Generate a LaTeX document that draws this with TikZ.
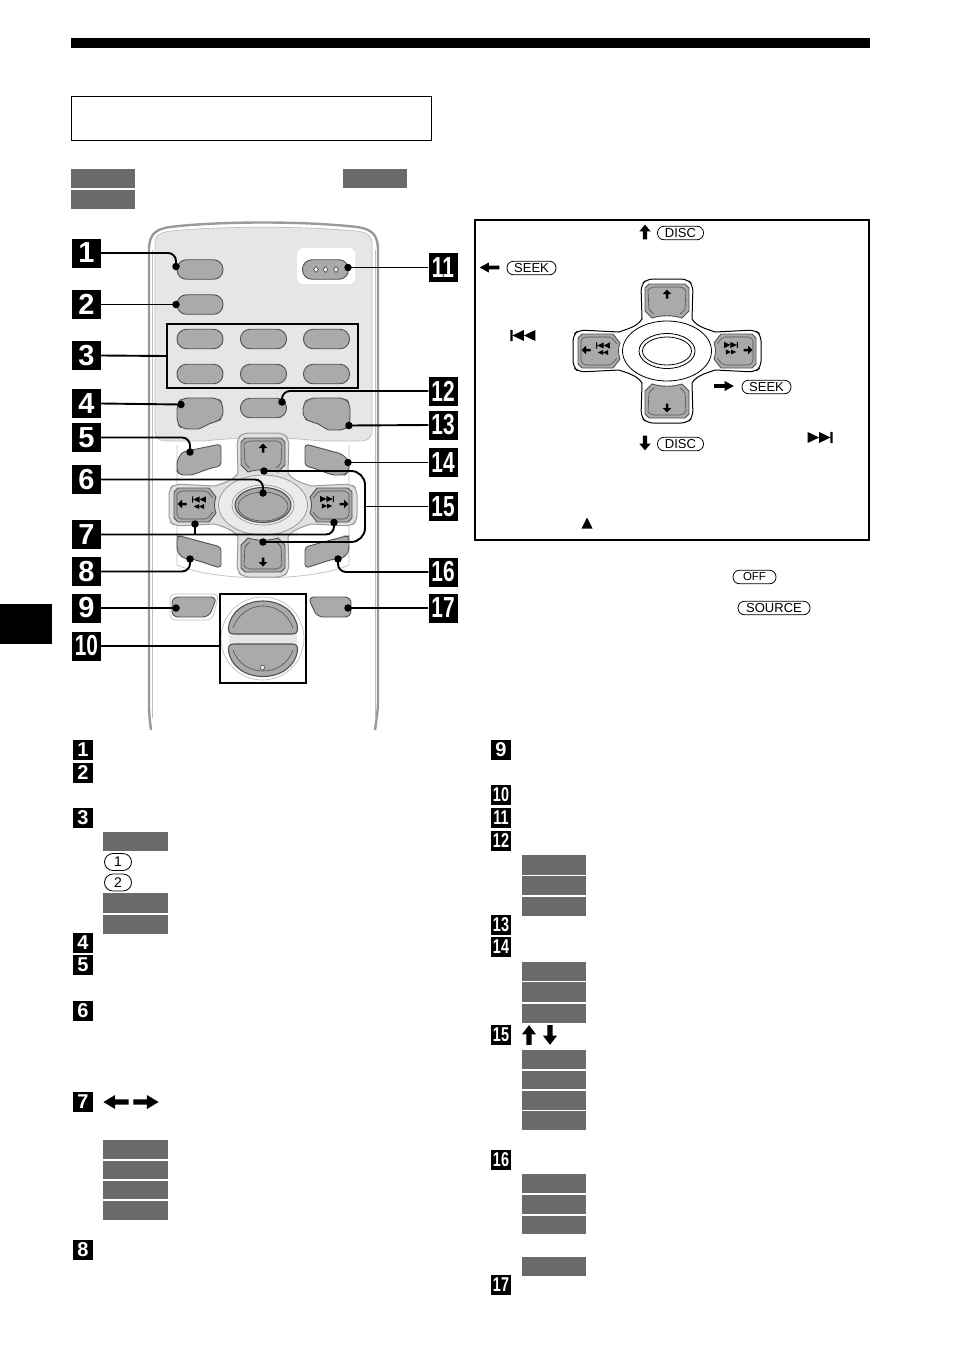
\documentclass[tikz,border=0pt]{standalone}
\usepackage{fontspec}
\setmainfont{Liberation Sans}
\usetikzlibrary{calc}
\definecolor{btn}{HTML}{AAAAAA}
\definecolor{boxg}{HTML}{6A6A6A}
\definecolor{panel}{HTML}{E6E6E6}
\definecolor{rim}{HTML}{9A9A9A}
\definecolor{edge}{HTML}{505050}
\tikzset{
  bigbadge/.style={fill=black,text=white,minimum width=29pt,minimum height=29pt,inner sep=0pt,font=\bfseries\fontsize{29}{29}\selectfont},
  smallbadge/.style={fill=black,text=white,minimum width=20pt,minimum height=20pt,inner sep=0pt,font=\bfseries\fontsize{20}{20}\selectfont},
  pill/.style={draw=black,line width=.8pt,rounded corners=6.5pt,fill=white,minimum height=13.5pt,inner sep=0pt,font=\fontsize{13}{13}\selectfont},
  pad/.style={fill=btn,draw=edge,line width=.9pt},
  oval/.style={fill=btn,draw=edge,line width=.9pt,rounded corners=9.5pt,minimum width=46pt,minimum height=19.5pt,inner sep=0pt},
  call/.style={line width=1.9pt,draw=black,rounded corners=8pt},
  dot/.style={circle,fill=black,minimum size=7.5pt,inner sep=0pt},
  graybox/.style={fill=boxg},
}
\newcommand{\NN}[1]{\scalebox{.72}[1]{#1}}
\newcommand{\gb}[4]{\fill[graybox] (#1,#2) rectangle (#3,#4);}
\newcommand{\bigarrow}[5]{\fill[shift={(#1,#2)},rotate=#3,xscale=#4,yscale=#5] (-7,-1.9)--(.5,-1.9)--(.5,-5)--(7,0)--(.5,5)--(.5,1.9)--(-7,1.9)--cycle;}
\newcommand{\smallarrow}[3]{\fill[shift={(#1,#2)},rotate=#3,scale=1.25] (-3.6,-1)--(0,-1)--(0,-3.4)--(3.6,0)--(0,3.4)--(0,1)--(-3.6,1)--cycle;}
\newcommand{\skipfwd}[3]{\fill[shift={(#1,#2)},scale=#3] (-6.5,-2.9)--(-.5,0)--(-6.5,2.9)--cycle (-.5,-2.9)--(5.5,0)--(-.5,2.9)--cycle (5.5,-2.9) rectangle (6.6,2.9);}
\newcommand{\skipback}[3]{\fill[shift={(#1,#2)},scale=#3] (6.5,-2.9)--(.5,0)--(6.5,2.9)--cycle (.5,-2.9)--(-5.5,0)--(.5,2.9)--cycle (-5.5,-2.9) rectangle (-6.6,2.9);}
\newcommand{\dblfwd}[3]{\fill[shift={(#1,#2)},scale=#3] (-6,-2.9)--(0,0)--(-6,2.9)--cycle (0,-2.9)--(6,0)--(0,2.9)--cycle;}
\newcommand{\dblback}[3]{\fill[shift={(#1,#2)},scale=#3] (6,-2.9)--(0,0)--(6,2.9)--cycle (0,-2.9)--(-6,0)--(0,2.9)--cycle;}
\newcommand{\crosspad}[5]{%
\begin{scope}[shift={(#1,#2)}]
 \draw[fill=#3,draw=#4,line width=1pt]
  (-25,-32) [rounded corners=6pt] -- (-26,-66) -- (-20,-72) -- (20,-72) -- (26,-66) [sharp corners] -- (25,-32)
  .. controls (30,-24) and (40,-22) .. (48,-19) [rounded corners=6pt] -- (88,-21) -- (94,-16) -- (94,16) -- (88,21) [sharp corners] -- (48,19)
  .. controls (40,22) and (30,24) .. (25,32) [rounded corners=6pt] -- (26,66) -- (20,72) -- (-20,72) -- (-26,66) [sharp corners] -- (-25,32)
  .. controls (-30,24) and (-40,22) .. (-48,19) [rounded corners=6pt] -- (-88,21) -- (-94,16) -- (-94,-16) -- (-88,-21) [sharp corners] -- (-48,-19)
  .. controls (-40,-22) and (-30,-24) .. (-25,-32) -- cycle;
 \draw[fill=#5,draw=#4,line width=.8pt] (0,0) ellipse [x radius=44.5,y radius=30];
 \draw[pad] (-22,-63)--(-18,-67)--(18,-67)--(22,-63)--(22,-40)--(15,-33) .. controls (5,-36) and (-5,-36) .. (-15,-33)--(-22,-40)--cycle;
 \draw[edge,line width=.6pt,rounded corners=2pt] (-19,-61)--(-15,-64)--(15,-64)--(19,-61)--(18,-41)--(13,-37);
 \draw[edge,line width=.6pt,rounded corners=2pt] (-19,-61)--(-18,-41)--(-13,-37);
 \smallarrow{0}{-57}{90}
 \draw[pad] (-22,63)--(-18,67)--(18,67)--(22,63)--(22,40)--(15,33) .. controls (5,36) and (-5,36) .. (-15,33)--(-22,40)--cycle;
 \draw[edge,line width=.6pt,rounded corners=2pt] (-19,61)--(-15,64)--(15,64)--(19,61)--(18,41)--(13,37);
 \draw[edge,line width=.6pt,rounded corners=2pt] (-19,61)--(-18,41)--(-13,37);
 \smallarrow{0}{57}{-90}
 \draw[pad] (-89,-13)--(-85,-17)--(-54,-17)--(-47,-8) .. controls (-49,-3) and (-49,3) .. (-47,8)--(-54,17)--(-85,17)--(-89,13)--cycle;
 \draw[edge,line width=.6pt,rounded corners=2pt] (-86,-11)--(-83,-14)--(-56,-14)--(-50,-7);
 \draw[edge,line width=.6pt,rounded corners=2pt] (-86,-11)--(-86,11)--(-83,14)--(-56,14)--(-50,7);
 \smallarrow{-81}{-1}{180}
 \skipback{-64}{-5.5}{1.05}
 \dblback{-64}{1.5}{.85}
 \draw[pad] (89,-13)--(85,-17)--(54,-17)--(47,-8) .. controls (49,-3) and (49,3) .. (47,8)--(54,17)--(85,17)--(89,13)--cycle;
 \draw[edge,line width=.6pt,rounded corners=2pt] (86,-11)--(83,-14)--(56,-14)--(50,-7);
 \draw[edge,line width=.6pt,rounded corners=2pt] (86,-11)--(86,11)--(83,14)--(56,14)--(50,7);
 \smallarrow{81}{-1}{0}
 \skipfwd{64}{-6}{1.05}
 \dblfwd{64}{1}{.85}
\end{scope}}
\begin{document}
\begin{tikzpicture}[x=1pt,y=-1pt]
\useasboundingbox (0,0) rectangle (954,1352);
\fill[white] (0,0) rectangle (954,1352);
\fill[black] (71,38) rectangle (870,48);
\fill[black] (0,604) rectangle (52,644);
\node[draw=black,line width=.7pt,minimum width=360pt,minimum height=44pt,inner sep=0pt] (title) at (251,118) {};
\gb{71}{169}{135}{188}\gb{71}{190}{135}{209}\gb{343}{169}{407}{188}
\draw[draw=rim,line width=2.4pt,fill=white]
  (151,730) .. controls (149,715) and (149,710) .. (149,700) -- (149,250)
  .. controls (149,235) and (155,229) .. (170,227) .. controls (220,221) and (305,221) .. (357,227)
  .. controls (372,229) and (378,235) .. (378,250) -- (378,700) .. controls (378,710) and (377,715) .. (375,730);
\draw[draw=black!25,line width=.6pt] (152,718) -- (152,250);
\draw[draw=black!25,line width=.6pt] (375,718) -- (375,250);
\draw[draw=black!25,line width=.7pt,fill=panel]
  (155,430) -- (155,245) .. controls (155,235) and (160,232) .. (172,231) .. controls (220,226) and (305,226) .. (355,231)
  .. controls (367,232) and (372,235) .. (372,245) -- (372,430) .. controls (372,438) and (368,441) .. (360,441)
  -- (320,441) .. controls (290,437) and (235,437) .. (205,441) -- (167,441) .. controls (159,441) and (155,438) .. (155,430) -- cycle;
\draw[draw=black!25,line width=.7pt] (177,445) -- (177,565) .. controls (215,582) and (310,582) .. (349,565) -- (349,445);
\fill[white,rounded corners=6pt] (297,248) rectangle (355,284);
\node[oval] (k1) at (200,269.5) {};
\node[oval] (k2) at (200,304.5) {};
\node[oval] (k11) at (325.5,269.5) {};
\foreach \xx in {316,325.5,336}{\draw[edge,line width=.7pt,fill=white] (\xx,266.5)--(\xx+2.5,269.5)--(\xx,272.5)--(\xx-2.5,269.5)--cycle;}
\node[oval] (ka) at (200,339) {};
\node[oval] (kb) at (263.5,339) {};
\node[oval] (kc) at (326.5,339) {};
\node[oval] (kd) at (200,374) {};
\node[oval] (ke) at (263.5,374) {};
\node[oval] (kf) at (326.5,374) {};
\node[draw=black,line width=1.6pt,minimum width=191pt,minimum height=64pt,inner sep=0pt] (g3) at (262.5,356) {};
\draw[pad,rounded corners=6pt] (177,404)--(182,398)--(218,398)--(223,404)--(223,418)--(216,422) .. controls (208,424) and (200,429) .. (192,429)--(182,429)--(177,423)--cycle;
\node[oval] (k12) at (263.5,408) {};
\draw[pad,rounded corners=6pt] (350,404)--(345,398)--(309,398)--(303,404)--(303,418)--(311,422) .. controls (319,424) and (327,430) .. (335,430)--(345,430)--(350,424)--cycle;
\draw[pad,rounded corners=3.5pt] (177,461)--(182,452)--(221,444)--(221,466) .. controls (205,469) and (195,475) .. (186,475)--(180,475)--(177,471)--cycle;
\draw[pad,rounded corners=3.5pt] (305,444)--(342,454)--(349,461)--(349,471)--(345,475)--(338,475) .. controls (330,475) and (318,469) .. (305,466)--cycle;
\draw[pad,rounded corners=3.5pt] (177,536)--(180,536)--(221,547)--(221,568) .. controls (210,565) and (195,559) .. (186,559)--(180,556)--(177,550)--cycle;
\draw[pad,rounded corners=3.5pt] (349,536)--(346,536)--(305,547)--(305,568) .. controls (316,565) and (331,559) .. (340,559)--(346,556)--(349,550)--cycle;
\crosspad{263}{505}{black!12}{rim}{black!8}
\draw[draw=black!40,line width=.7pt] (263,505) ellipse [x radius=31,y radius=20];
\draw[fill=btn,draw=edge,line width=1.1pt] (263,505) ellipse [x radius=28,y radius=17.5];
\draw[draw=edge,line width=.6pt] (263,506.5) ellipse [x radius=25,y radius=14.5];
\draw[draw=black!25,line width=.7pt,rounded corners=5pt] (170,594)--(219,594)--(212,620)--(170,620)--cycle;
\draw[pad,rounded corners=6pt] (172,597)--(217,597)--(209,617)--(172,617)--cycle;
\draw[pad,rounded corners=6pt] (308,597)--(351,597)--(351,617)--(317,617)--cycle;
\draw[draw=black!25,line width=.7pt,fill=white] (262.5,638.5) circle [radius=41.5];
\fill[panel] (229,632) rectangle (297,645);
\draw[pad,line width=1.1pt] (228.5,628) .. controls (230,612) and (245,601) .. (263,601) .. controls (281,601) and (296,612) .. (297.5,628) .. controls (298,632) and (296,634) .. (292,634) -- (234,634) .. controls (230,634) and (228,632) .. (228.5,628) -- cycle;
\draw[edge,line width=.6pt] (233,628) .. controls (238,614) and (250,606) .. (263,606) .. controls (276,606) and (288,614) .. (293,628);
\draw[pad,line width=1.1pt] (228.5,650) .. controls (230,666) and (245,676.5) .. (263,676.5) .. controls (281,676.5) and (296,666) .. (297.5,650) .. controls (298,646) and (296,644) .. (292,644) -- (234,644) .. controls (230,644) and (228,646) .. (228.5,650) -- cycle;
\draw[edge,line width=.6pt] (233,650) .. controls (238,664) and (250,671) .. (263,671) .. controls (276,671) and (288,664) .. (293,650);
\draw[edge,line width=.6pt,fill=panel] (262.5,667.5) circle [radius=2.4];
\node[draw=black,line width=1.7pt,minimum width=86pt,minimum height=89pt,inner sep=0pt] (g10) at (263,638.5) {};
\node[bigbadge] (b1) at (86.5,253) {1};
\node[bigbadge] (b2) at (86.5,304.5) {2};
\node[bigbadge] (b3) at (86.5,355.5) {3};
\node[bigbadge] (b4) at (86.5,403.5) {4};
\node[bigbadge] (b5) at (86.5,437.5) {5};
\node[bigbadge] (b6) at (86.5,479.5) {6};
\node[bigbadge] (b7) at (86.5,534.5) {7};
\node[bigbadge] (b8) at (86.5,571.5) {8};
\node[bigbadge] (b9) at (86.5,608) {9};
\node[bigbadge] (b10) at (86.5,646) {\NN{10}};
\node[bigbadge] (b11) at (443,267.5) {\NN{11}};
\node[bigbadge] (b12) at (443,391) {\NN{12}};
\node[bigbadge] (b13) at (443,425) {\NN{13}};
\node[bigbadge] (b14) at (443,462.5) {\NN{14}};
\node[bigbadge] (b15) at (443,506.5) {\NN{15}};
\node[bigbadge] (b16) at (443,572) {\NN{16}};
\node[bigbadge] (b17) at (443,608) {\NN{17}};
\node[dot] (d1) at (176,266.5) {};
\node[dot] (d2) at (176,304.5) {};
\node[dot] (d4) at (181,404.5) {};
\node[dot] (d5) at (190,452) {};
\node[dot] (d6) at (263,493) {};
\node[dot] (d7a) at (195,524) {};
\node[dot] (d7b) at (334,522.5) {};
\node[dot] (d8) at (190,559) {};
\node[dot] (d9) at (176,608) {};
\node[dot] (d11) at (348,267.5) {};
\node[dot] (d12) at (282,402) {};
\node[dot] (d13) at (349,425.5) {};
\node[dot] (d14) at (348,462.5) {};
\node[dot] (d15a) at (264,471) {};
\node[dot] (d15b) at (263,542) {};
\node[dot] (d16) at (338,559) {};
\node[dot] (d17) at (348,608) {};
\draw[call] (b1.east) -| (d1.center);
\draw[call] (b2.east) -- (d2.center);
\draw[call] (b3.east) -- (g3.west);
\draw[call] (b4.east) -- (d4.center);
\draw[call] (b5.east) -| (d5.center);
\draw[call] (b6.east) -| (d6.center);
\draw[call] (b7.east) -| (d7b.center);
\draw[call,sharp corners] (b7.east -| d7a.center) -- (d7a.center);
\draw[call] (b8.east) -| (d8.center);
\draw[call] (b9.east) -- (d9.center);
\draw[call] (b10.east) -- (b10.east -| g10.west);
\draw[call] (b11.west) -- (d11.center);
\draw[call] (b12.west) -| (d12.center);
\draw[call] (b13.west) -- (d13.center);
\draw[call] (b14.west) -- (d14.center);
\coordinate (j15) at (b15.west -| 365,0);
\draw[call,rounded corners=14pt] (d15a.center) -| (j15) |- (d15b.center);
\draw[call,sharp corners] (b15.west) -- (j15);
\draw[call] (b16.west) -| (d16.center);
\draw[call] (b17.west) -- (d17.center);
\node[draw=black,line width=1.7pt,minimum width=394pt,minimum height=320pt,inner sep=0pt] (frame) at (672,380) {};
\crosspad{667}{351}{white}{black}{white}
\draw[draw=black,line width=.8pt,fill=white] (667,351) ellipse [x radius=28,y radius=17.5];
\draw[draw=black,line width=.8pt] (667,351) ellipse [x radius=24.5,y radius=14];
\bigarrow{645}{232}{90}{1.05}{1.15}
\node[pill,minimum width=46pt] (disc1) at (680.5,233) {DISC};
\bigarrow{489.5}{267.5}{180}{1.4}{1}
\node[pill,minimum width=49pt] (seek1) at (531.5,268) {SEEK};
\bigarrow{724}{386}{0}{1.4}{1}
\node[pill,minimum width=49pt] (seek2) at (766.5,387) {SEEK};
\bigarrow{645}{443}{-90}{1.05}{1.15}
\node[pill,minimum width=46pt] (disc2) at (680.5,444) {DISC};
\skipback{523}{335.5}{1.9}
\skipfwd{820}{437.5}{1.9}
\fill (587,517.5)--(592.5,528.5)--(581.5,528.5)--cycle;
\node[pill,minimum width=43pt,font=\fontsize{11.5}{11.5}\selectfont] (off) at (754.5,577) {OFF};
\node[pill,minimum width=72pt] (source) at (774,608) {SOURCE};
\node[smallbadge] (s1) at (83,750) {1};
\node[smallbadge] (s2) at (83,773) {2};
\node[smallbadge] (s3) at (83,818) {3};
\node[smallbadge] (s4) at (83,943) {4};
\node[smallbadge] (s5) at (83,965) {5};
\node[smallbadge] (s6) at (83,1011) {6};
\node[smallbadge] (s7) at (83,1102) {7};
\node[smallbadge] (s8) at (83,1250) {8};
\gb{103}{832}{168}{851}
\node[pill,minimum width=27pt,minimum height=17pt,rounded corners=8.5pt,font=\fontsize{14}{14}\selectfont] (p1) at (118,862) {1};
\node[pill,minimum width=27pt,minimum height=17pt,rounded corners=8.5pt,font=\fontsize{14}{14}\selectfont] (p2) at (118,882.5) {2};
\gb{103}{893}{168}{913}\gb{103}{915}{168}{934}
\bigarrow{116}{1102}{180}{1.8}{1.4}
\bigarrow{146}{1102}{0}{1.8}{1.4}
\gb{103}{1140}{168}{1159}\gb{103}{1161}{168}{1179}\gb{103}{1181}{168}{1199}\gb{103}{1201}{168}{1220}
\node[smallbadge] (s9) at (501,750) {9};
\node[smallbadge] (s10) at (501,795) {\NN{10}};
\node[smallbadge] (s11) at (501,818) {\NN{11}};
\node[smallbadge] (s12) at (501,841) {\NN{12}};
\node[smallbadge] (s13) at (501,925) {\NN{13}};
\node[smallbadge] (s14) at (501,947) {\NN{14}};
\node[smallbadge] (s15) at (501,1035) {\NN{15}};
\node[smallbadge] (s16) at (501,1160) {\NN{16}};
\node[smallbadge] (s17) at (501,1285) {\NN{17}};
\gb{522}{855}{586}{875}\gb{522}{876}{586}{895}\gb{522}{897}{586}{916}
\gb{522}{962}{586}{981}\gb{522}{982}{586}{1002}\gb{522}{1004}{586}{1023}
\bigarrow{529}{1035}{90}{1.4}{1.4}
\bigarrow{550}{1035}{-90}{1.4}{1.4}
\gb{522}{1050}{586}{1069}\gb{522}{1071}{586}{1089}\gb{522}{1091}{586}{1110}\gb{522}{1111}{586}{1130}
\gb{522}{1174}{586}{1193}\gb{522}{1195}{586}{1214}\gb{522}{1216}{586}{1234}\gb{522}{1257}{586}{1276}
\end{tikzpicture}
\end{document}
